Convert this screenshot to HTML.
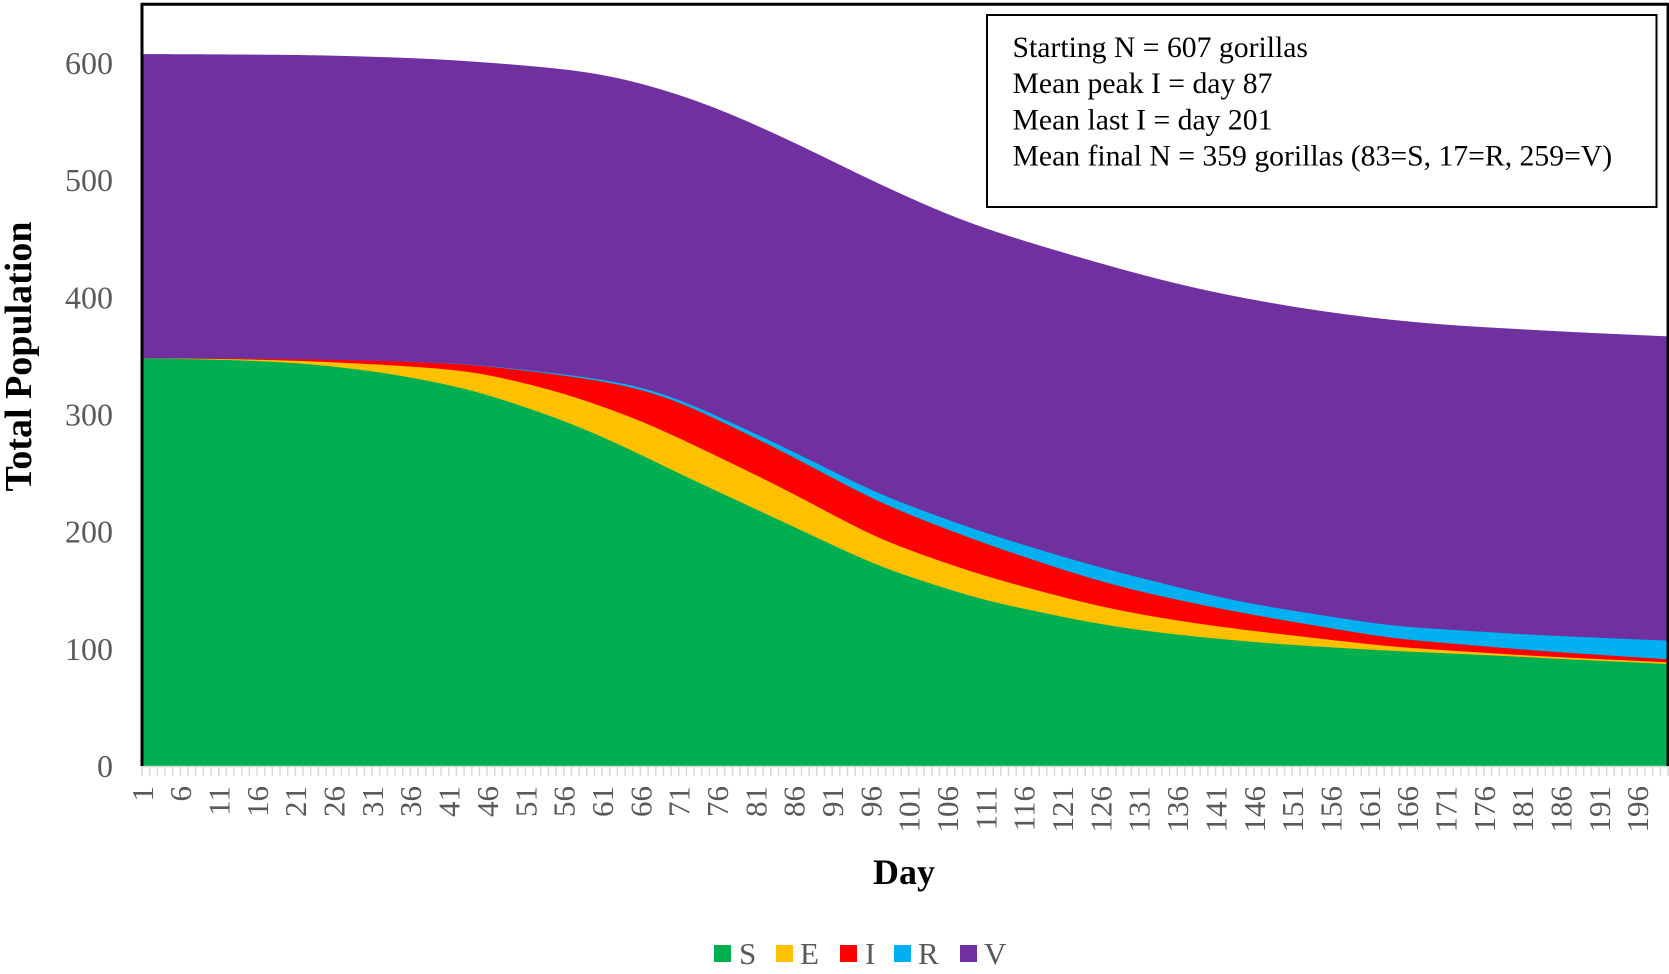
<!DOCTYPE html>
<html>
<head>
<meta charset="utf-8">
<style>
html,body{margin:0;padding:0;background:#fff;}
svg{display:block;}
text{font-family:"Liberation Serif","Times New Roman",serif;}
</style>
</head>
<body>
<svg id="c" width="1669" height="974" viewBox="0 0 1669 974" xmlns="http://www.w3.org/2000/svg">
<rect x="0" y="0" width="1669" height="974" fill="#fff"/>
<g id="areas"></g>
<g id="ticks"></g>
<line x1="142" y1="766.5" x2="1668" y2="766.5" stroke="#D9D9D9" stroke-width="1.5"/>
<line x1="142" y1="3" x2="142" y2="766" stroke="#000" stroke-width="3"/>
<line x1="141" y1="4.2" x2="1669" y2="4.2" stroke="#000" stroke-width="3"/>
<line x1="1667.8" y1="3" x2="1667.8" y2="766" stroke="#000" stroke-width="2.5"/>
<g id="ylab" font-size="32" fill="#595959" text-anchor="end"></g>
<g id="xlab" font-size="31" fill="#595959" text-anchor="end"></g>
<text x="0" y="0" font-size="38" font-weight="bold" fill="#000" text-anchor="middle" transform="translate(31,356.5) rotate(-90)">Total Population</text>
<text x="904" y="884" font-size="36" font-weight="bold" fill="#000" text-anchor="middle">Day</text>
<rect x="987" y="15" width="669.5" height="192" fill="#fff" stroke="#000" stroke-width="2"/>
<g font-size="29.7" fill="#000">
<text x="1012.5" y="57">Starting N = 607 gorillas</text>
<text x="1012.5" y="93">Mean peak I = day 87</text>
<text x="1012.5" y="129.5">Mean last I = day 201</text>
<text x="1012.5" y="165.5">Mean final N = 359 gorillas (83=S, 17=R, 259=V)</text>
</g>
<g font-size="31" fill="#595959">
<rect x="714" y="945" width="17" height="17" fill="#00B050"/>
<text x="739" y="964">S</text>
<rect x="776" y="945" width="17" height="17" fill="#FFC000"/>
<text x="800" y="964">E</text>
<rect x="840" y="945" width="17" height="17" fill="#FF0000"/>
<text x="865" y="964">I</text>
<rect x="894" y="945" width="17" height="17" fill="#00B0F0"/>
<text x="918" y="964">R</text>
<rect x="960" y="945" width="17" height="17" fill="#7030A0"/>
<text x="984" y="964">V</text>
</g>
</svg>
<script>
(function(){
var NS="http://www.w3.org/2000/svg";
var X0=142,X1=1668,Y0=766,K=1.1723;
function lin(p,x){
  if(x<=p[0][0])return p[0][1];
  var n=p.length;
  if(x>=p[n-1][0]){
    var s=(p[n-1][1]-p[n-2][1])/(p[n-1][0]-p[n-2][0]);
    return p[n-1][1]+s*(x-p[n-1][0]);
  }
  for(var i=0;i<n-1;i++){
    if(x>=p[i][0]&&x<=p[i+1][0]){
      var t=(x-p[i][0])/(p[i+1][0]-p[i][0]);
      return p[i][1]+t*(p[i+1][1]-p[i][1]);
    }
  }
  return p[n-1][1];
}
function smooth(p,sig){
  var pad=Math.ceil(sig*3),raw={},out=[],x,k;
  for(x=X0-pad;x<=X1+pad;x++)raw[x]=lin(p,x);
  var w=[],ws=0;
  for(k=-pad;k<=pad;k++){var v=Math.exp(-k*k/(2*sig*sig));w.push(v);ws+=v;}
  for(x=X0;x<=X1;x++){
    var s=0;
    for(k=-pad;k<=pad;k++)s+=w[k+pad]*raw[x+k];
    out.push([x,s/ws]);
  }
  return out;
}
var series=[
 {c:"#7030A0",s:28,p:[[142,607.3],[230,607],[319,606.4],[426,603.6],[490,600],[560,595.1],[610,589.4],[660,578.1],[710,563.9],[760,545.4],[810,525.5],[860,504.1],[910,484.3],[960,465.7],[1010,451.5],[1060,438.7],[1128,422],[1192,408],[1256,397],[1320,388],[1384,381],[1448,376],[1512,373],[1575,370],[1668,366.5]]},
 {c:"#00B0F0",s:26,p:[[142,347.8],[230,347.6],[307,347],[390,345.5],[473,342.7],[557,335],[600,330.1],[640,324.2],[680,313.1],[780,273.8],[880,231.2],[980,200],[1080,174],[1128,163],[1192,149.5],[1245,139],[1390,119.4],[1535,111.7],[1668,106.9]]},
 {c:"#FF0000",s:26,p:[[142,347.8],[230,347.6],[307,347],[390,345.5],[473,342.5],[557,334],[600,328.7],[640,322.2],[680,310.8],[780,269.6],[880,224.1],[980,191],[1080,162.5],[1128,151],[1192,139],[1245,130],[1390,108.9],[1535,98.4],[1668,91]]},
 {c:"#FFC000",s:26,p:[[142,347.8],[230,347.2],[307,345.5],[390,342],[473,337],[557,320],[600,307.5],[640,295.2],[680,279.5],[780,238.3],[880,192.8],[980,163],[1080,140],[1128,131],[1192,122],[1245,116],[1390,101.8],[1535,93.8],[1668,88.4]]},
 {c:"#00B050",s:26,p:[[142,347.8],[230,346.5],[307,343.5],[390,335],[473,321],[557,297],[600,282],[640,266],[680,249],[780,209.5],[880,169.5],[980,142],[1080,124],[1128,117],[1192,110.5],[1277,104],[1384,98.5],[1490,94.5],[1580,90.5],[1668,87]]}
];
var g=document.getElementById("areas");
series.forEach(function(s){
  var pts=smooth(s.p,s.s);
  var d="M"+X0+","+Y0;
  for(var i=0;i<pts.length;i++){d+=" L"+pts[i][0]+","+(Y0-pts[i][1]*K).toFixed(2);}
  d+=" L"+X1+","+Y0+" Z";
  var p=document.createElementNS(NS,"path");
  p.setAttribute("d",d);p.setAttribute("fill",s.c);
  g.appendChild(p);
});
var step=(X1-X0)/199;
var tg=document.getElementById("ticks");
for(var i=0;i<200;i++){
  var x=X0+i*step;
  var l=document.createElementNS(NS,"line");
  l.setAttribute("x1",x.toFixed(2));l.setAttribute("x2",x.toFixed(2));
  l.setAttribute("y1",766);l.setAttribute("y2",776);
  l.setAttribute("stroke","#D9D9D9");l.setAttribute("stroke-width","1.5");
  tg.appendChild(l);
}
var xl=document.getElementById("xlab");
for(var dd=1;dd<=196;dd+=5){
  var x2=X0+(dd-1)*step;
  var t=document.createElementNS(NS,"text");
  t.setAttribute("transform","translate("+x2.toFixed(2)+",786) rotate(-90)");
  t.setAttribute("dy","0.35em");
  t.textContent=String(dd);
  xl.appendChild(t);
}
var yl=document.getElementById("ylab");
for(var v=0;v<=600;v+=100){
  var t2=document.createElementNS(NS,"text");
  t2.setAttribute("x","113");
  t2.setAttribute("y",(Y0-v*K).toFixed(2));
  t2.setAttribute("dy","0.35em");
  t2.textContent=String(v);
  yl.appendChild(t2);
}
})();
</script>
</body>
</html>
